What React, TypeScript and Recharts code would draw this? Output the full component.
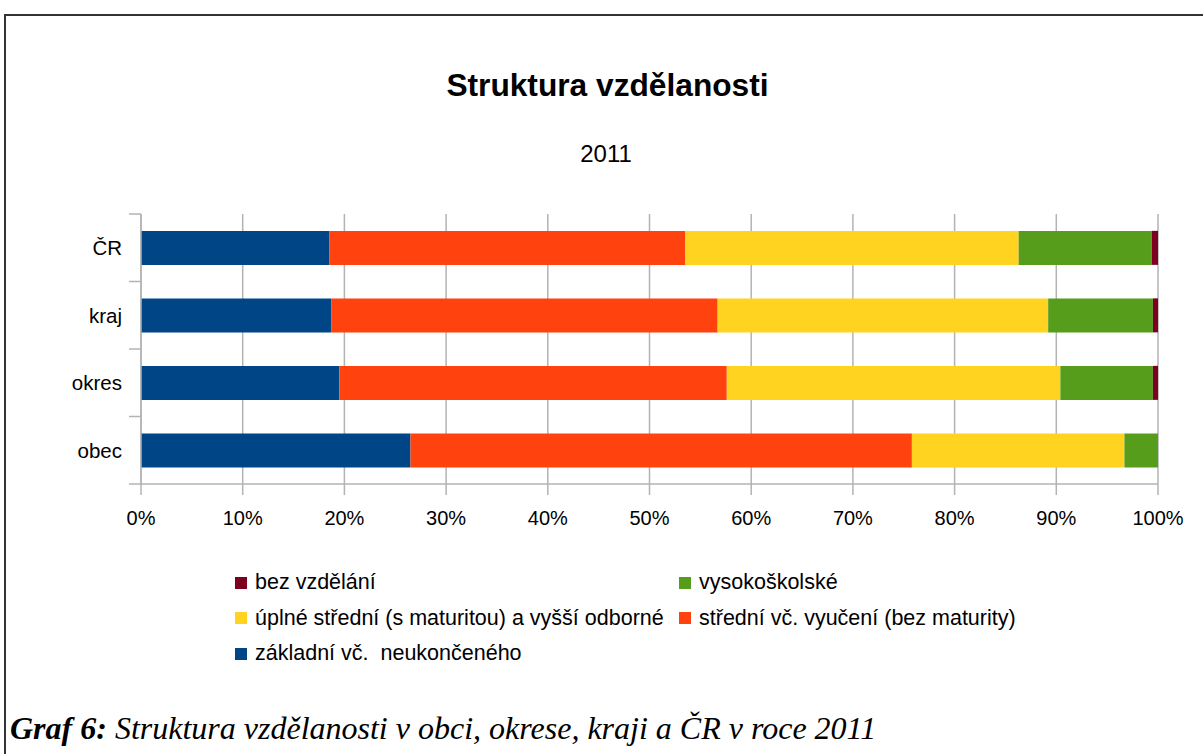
import React from 'react';
import { BarChart, Bar, XAxis, YAxis, CartesianGrid } from 'recharts';

const categories = ['ČR', 'kraj', 'okres', 'obec'];
const zakladni = [18.5, 18.7, 19.5, 26.5];
const stredniVyuceni = [35.0, 38.0, 38.1, 49.3];
const uplneStredni = [32.8, 32.5, 32.8, 20.9];
const vysokoskolske = [13.1, 10.3, 9.1, 3.3];
const bezVzdelani = [0.6, 0.5, 0.5, 0.0];
const xTicks = [0, 10, 20, 30, 40, 50, 60, 70, 80, 90, 100];

const series = [
  { key: 'zakladni', name: 'základní vč.  neukončeného', color: '#004586', values: zakladni },
  { key: 'stredni', name: 'střední vč. vyučení (bez maturity)', color: '#ff420e', values: stredniVyuceni },
  { key: 'uplne', name: 'úplné střední (s maturitou) a vyšší odborné', color: '#ffd320', values: uplneStredni },
  { key: 'vysoko', name: 'vysokoškolské', color: '#579d1c', values: vysokoskolske },
  { key: 'bez', name: 'bez vzdělání', color: '#7e0021', values: bezVzdelani },
];

const data = categories.map((name, i) => {
  const row: Record<string, any> = { name };
  series.forEach((s) => (row[s.key] = s.values[i]));
  return row;
});

const legendOrder = [...series].reverse();

const SANS = '"Liberation Sans", Arial, sans-serif';
const GRID = '#b3b3b3';

const CategoryTick = (props: any) => {
  const { x, y, payload, index, visibleTicksCount } = props;
  const half = payload && typeof payload.offset === 'number' && payload.offset > 0 ? payload.offset : 33.75;
  const lx1 = x + 7;
  const lx2 = x + 19;
  const isLast = index === (visibleTicksCount ?? categories.length) - 1;
  return (
    <g>
      <line x1={lx1} x2={lx2} y1={y - half} y2={y - half} stroke={GRID} strokeWidth={1.5} />
      {isLast && <line x1={lx1} x2={lx2} y1={y + half} y2={y + half} stroke={GRID} strokeWidth={1.5} />}
      <text x={x} y={y} dy="0.355em" textAnchor="end" fill="#000" fontSize={20.5} fontFamily={SANS}>
        {payload.value}
      </text>
    </g>
  );
};

export default function App() {
  return (
    <div style={{ position: 'absolute', left: 0, top: 0, width: 1203, height: 754, background: '#fff', fontFamily: SANS, overflow: 'hidden' }}>
      <div style={{ position: 'absolute', left: 4, top: 14, width: 1199, height: 740, borderTop: '2px solid #333', borderLeft: '2px solid #333', boxSizing: 'border-box' }} />
      <div style={{ position: 'absolute', left: 0, width: 1215, top: 70.2, textAlign: 'center', fontSize: 31.7, fontWeight: 'bold', lineHeight: 1, color: '#000' }}>
        Struktura vzdělanosti
      </div>
      <div style={{ position: 'absolute', left: 0, width: 1212, top: 141.7, textAlign: 'center', fontSize: 24, lineHeight: 1, color: '#000' }}>
        2011
      </div>
      <div style={{ position: 'absolute', left: 0, top: 0 }}>
        <BarChart
          width={1203}
          height={754}
          data={data}
          layout="vertical"
          barCategoryGap="25%"
          margin={{ top: 214, right: 45, bottom: 240, left: 0 }}
        >
          <CartesianGrid horizontal={false} vertical={true} stroke={GRID} strokeWidth={1.5} />
          <XAxis
            xAxisId={0}
            type="number"
            domain={[0, 100]}
            ticks={xTicks}
            interval={0}
            tickFormatter={(v: number) => `${v}%`}
            height={30}
            tickSize={11}
            tickMargin={16}
            axisLine={{ stroke: GRID, strokeWidth: 1.5 }}
            tickLine={{ stroke: GRID, strokeWidth: 1.5 }}
            tick={{ fill: '#000', fontSize: 20, fontFamily: SANS }}
          />
          <XAxis
            xAxisId="top"
            orientation="top"
            type="number"
            domain={[0, 100]}
            height={0}
            tick={false}
            tickLine={false}
            axisLine={{ stroke: GRID, strokeWidth: 1.5 }}
          />
          <YAxis
            type="category"
            dataKey="name"
            width={141}
            tickSize={0}
            tickMargin={19}
            interval={0}
            tickLine={false}
            axisLine={{ stroke: GRID, strokeWidth: 1.5 }}
            tick={<CategoryTick />}
          />
          {series.map((s) => (
            <Bar key={s.key} dataKey={s.key} name={s.name} stackId="a" fill={s.color} isAnimationActive={false} xAxisId={0} />
          ))}
        </BarChart>
      </div>
      <div style={{ position: 'absolute', left: 235, top: 571.75, display: 'grid', gridTemplateColumns: '444px auto', rowGap: 14.25, fontSize: 21.5, lineHeight: '21.5px', color: '#000' }}>
        {legendOrder.map((s) => (
          <div key={s.key} style={{ display: 'flex', alignItems: 'center', whiteSpace: 'pre' }}>
            <span style={{ display: 'inline-block', width: 12, height: 12, background: s.color, marginRight: 8, flex: 'none' }} />
            <span>{s.name}</span>
          </div>
        ))}
      </div>
      <div style={{ position: 'absolute', left: 10, top: 712, fontFamily: '"Liberation Serif", "Times New Roman", serif', fontStyle: 'italic', fontSize: 32, lineHeight: 1, whiteSpace: 'nowrap', color: '#000' }}>
        <b>Graf 6:</b> Struktura vzdělanosti v obci, okrese, kraji a ČR v roce 2011
      </div>
    </div>
  );
}
